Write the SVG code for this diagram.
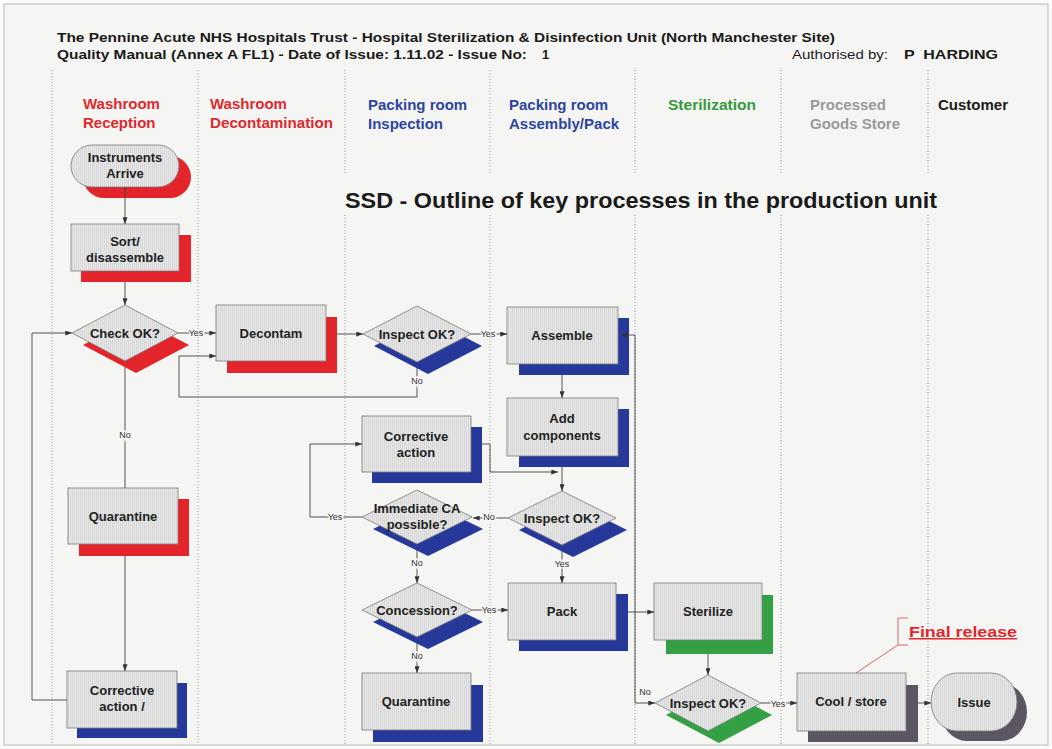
<svg xmlns="http://www.w3.org/2000/svg" width="1052" height="749" viewBox="0 0 1052 749">
<style>
.hd{font-family:"Liberation Sans",Arial,sans-serif;font-weight:bold;font-size:13px;fill:#1a1a1a}
.rg{font-family:"Liberation Sans",Arial,sans-serif;font-size:13px;fill:#1a1a1a}
.ln{font-family:"Liberation Sans",Arial,sans-serif;font-weight:bold;font-size:15px}
.red{fill:#e0282e}.blue{fill:#2c45a0}.green{fill:#35993d}.grey{fill:#9a9a9a}.blk{fill:#1a1a1a}
.lane{stroke:#9a9a9a;stroke-width:1;stroke-dasharray:1 2;fill:none}
.box{fill:url(#tex);stroke:#7a7a7a;stroke-width:0.8}
.t{font-family:"Liberation Sans",Arial,sans-serif;font-weight:bold;font-size:13px;fill:#222;text-anchor:middle}
.sr{fill:#e3242b}.sb{fill:#26399a}.sg{fill:#32a043}.sk{fill:#5b5661}
.c{fill:none;stroke:#444;stroke-width:0.9}
.a{marker-end:url(#arr)}
.lb{font-family:"Liberation Sans",Arial,sans-serif;font-size:9px;fill:#333;text-anchor:middle;paint-order:stroke;stroke:#f5f5f3;stroke-width:3px}
</style>
<defs>
<pattern id="tex" width="2" height="2" patternUnits="userSpaceOnUse">
<rect width="2" height="2" fill="#e6e6e6"/>
<rect width="1" height="2" fill="#d8d8d8"/>
</pattern>
<marker id="arr" viewBox="0 0 8 6" refX="8" refY="3" markerWidth="7" markerHeight="5" markerUnits="userSpaceOnUse" orient="auto">
<path d="M0,0 L8,3 L0,6 z" fill="#333"/>
</marker>
</defs>
<rect x="0" y="0" width="1052" height="749" fill="#fbfbfa"/>
<rect x="4" y="4" width="1044" height="741" fill="#f5f5f3" stroke="#b8b8b8" stroke-width="1"/>

<g id="header">
<text class="hd" x="57" y="42" textLength="778" lengthAdjust="spacingAndGlyphs">The Pennine Acute NHS Hospitals Trust - Hospital Sterilization &amp; Disinfection Unit (North Manchester Site)</text>
<text class="hd" x="57" y="59" textLength="470" lengthAdjust="spacingAndGlyphs">Quality Manual (Annex A FL1) - Date of Issue: 1.11.02 - Issue No:</text>
<text class="hd" x="542" y="59">1</text>
<text class="rg" x="792" y="59" textLength="96" lengthAdjust="spacingAndGlyphs">Authorised by:</text>
<text class="hd" x="904" y="59" xml:space="preserve" textLength="94" lengthAdjust="spacingAndGlyphs">P  HARDING</text>
</g>

<g id="lanes">
<path class="lane" d="M52,70 V745 M198,70 V745 M345,70 V175 M345,215 V745 M490,70 V175 M490,215 V745 M635,70 V175 M635,215 V745 M781,70 V175 M781,215 V745 M928,70 V175 M928,215 V745"/>
<text class="ln red" x="83" y="109">Washroom</text>
<text class="ln red" x="83" y="128">Reception</text>
<text class="ln red" x="210" y="109">Washroom</text>
<text class="ln red" x="210" y="128" textLength="123" lengthAdjust="spacingAndGlyphs">Decontamination</text>
<text class="ln blue" x="368" y="110">Packing room</text>
<text class="ln blue" x="368" y="129">Inspection</text>
<text class="ln blue" x="509" y="110">Packing room</text>
<text class="ln blue" x="509" y="129">Assembly/Pack</text>
<text class="ln green" x="668" y="110" textLength="88" lengthAdjust="spacingAndGlyphs">Sterilization</text>
<text class="ln grey" x="810" y="110">Processed</text>
<text class="ln grey" x="810" y="129">Goods Store</text>
<text class="ln blk" x="938" y="110">Customer</text>
</g>

<g id="title">
<text x="345" y="208" font-family="Liberation Sans, Arial, sans-serif" font-weight="bold" font-size="21.5" fill="#1a1a1a" textLength="592" lengthAdjust="spacingAndGlyphs">SSD - Outline of key processes in the production unit</text>
</g>

<g id="n-arrive">
<rect class="sr" x="83" y="156" width="108" height="42" rx="21"/>
<rect class="box" x="71" y="145" width="108" height="42" rx="21"/>
<text class="t" x="125" y="162">Instruments</text>
<text class="t" x="125" y="178">Arrive</text>
</g>
<g id="n-sort">
<rect class="sr" x="81" y="235" width="110" height="47"/>
<rect class="box" x="71" y="224" width="108" height="47"/>
<text class="t" x="125" y="246">Sort/</text>
<text class="t" x="125" y="262">disassemble</text>
</g>
<g id="n-check">
<polygon class="sr" points="83,345 136,317 189,345 136,373"/>
<polygon class="box" points="72,333 125,305 178,333 125,361"/>
<text class="t" x="125" y="338">Check OK?</text>
</g>
<g id="n-decontam">
<rect class="sr" x="227" y="317" width="110" height="56"/>
<rect class="box" x="216" y="305" width="110" height="56"/>
<text class="t" x="271" y="338">Decontam</text>
</g>
<g id="n-inspect1">
<polygon class="sb" points="374,346 428,318 482,346 428,374"/>
<polygon class="box" points="363,334 417,306 471,334 417,362"/>
<text class="t" x="417" y="339">Inspect OK?</text>
</g>
<g id="n-assemble">
<rect class="sb" x="519" y="318" width="110" height="57"/>
<rect class="box" x="507" y="307" width="111" height="57"/>
<text class="t" x="562" y="340">Assemble</text>
</g>
<g id="n-addcomp">
<rect class="sb" x="519" y="409" width="110" height="58"/>
<rect class="box" x="507" y="398" width="111" height="58"/>
<text class="t" x="562" y="423">Add</text>
<text class="t" x="562" y="440">components</text>
</g>
<g id="n-corrective1">
<rect class="sb" x="372" y="427" width="110" height="56"/>
<rect class="box" x="362" y="416" width="109" height="56"/>
<text class="t" x="416" y="441">Corrective</text>
<text class="t" x="416" y="457">action</text>
</g>
<g id="n-inspect2">
<polygon class="sb" points="519,530 573,503 627,530 573,557"/>
<polygon class="box" points="508,518 562,491 616,518 562,545"/>
<text class="t" x="562" y="523">Inspect OK?</text>
</g>
<g id="n-immediate">
<polygon class="sb" points="373,529 428,502 483,529 428,556"/>
<polygon class="box" points="362,517 417,490 472,517 417,544"/>
<text class="t" x="417" y="513">Immediate CA</text>
<text class="t" x="417" y="529">possible?</text>
</g>
<g id="n-concession">
<polygon class="sb" points="373,622 428,595 483,622 428,649"/>
<polygon class="box" points="362,610 417,583 472,610 417,637"/>
<text class="t" x="417" y="615">Concession?</text>
</g>
<g id="n-pack">
<rect class="sb" x="519" y="594" width="109" height="57"/>
<rect class="box" x="508" y="583" width="108" height="57"/>
<text class="t" x="562" y="616">Pack</text>
</g>
<g id="n-sterilize">
<rect class="sg" x="666" y="595" width="107" height="59"/>
<rect class="box" x="654" y="583" width="108" height="57"/>
<text class="t" x="708" y="616">Sterilize</text>
</g>
<g id="n-quarantine1">
<rect class="sr" x="79" y="499" width="110" height="57"/>
<rect class="box" x="68" y="488" width="110" height="56"/>
<text class="t" x="123" y="521">Quarantine</text>
</g>
<g id="n-corrective2">
<rect class="sb" x="77" y="683" width="110" height="55"/>
<rect class="box" x="67" y="671" width="110" height="57"/>
<text class="t" x="122" y="695">Corrective</text>
<text class="t" x="122" y="711">action /</text>
</g>
<g id="n-quarantine2">
<rect class="sb" x="373" y="685" width="110" height="57"/>
<rect class="box" x="362" y="673" width="109" height="57"/>
<text class="t" x="416" y="706">Quarantine</text>
</g>
<g id="n-inspect3">
<polygon class="sg" points="666,715 719,687 772,715 719,743"/>
<polygon class="box" points="655,703 708,675 761,703 708,731"/>
<text class="t" x="708" y="708">Inspect OK?</text>
</g>
<g id="n-cool">
<rect class="sk" x="808" y="685" width="110" height="57"/>
<rect class="box" x="797" y="673" width="109" height="58"/>
<text class="t" x="851" y="706">Cool / store</text>
</g>
<g id="n-issue">
<rect class="sk" x="941" y="683" width="86" height="58" rx="26" ry="29"/>
<rect class="box" x="931" y="673" width="86" height="58" rx="26" ry="29"/>
<text class="t" x="974" y="707">Issue</text>
</g>
<g id="n-final">
<path d="M856,673 L898,645 M908,618 H898 V645 H908" fill="none" stroke="#e0666a" stroke-width="1"/>
<text x="909" y="637" font-family="Liberation Sans, Arial, sans-serif" font-weight="bold" font-size="15" fill="#e0282e" text-decoration="underline" textLength="108" lengthAdjust="spacingAndGlyphs">Final release</text>
</g>

<g id="connectors">
<path class="c a" d="M125,187 V224"/>
<path class="c a" d="M125,282 V305"/>
<path class="c a" d="M178,333 H216"/>
<path class="c a" d="M337,334 H363"/>
<path class="c a" d="M471,334 H507"/>
<path class="c a" d="M417,368 V397 H179 V356 H216"/>
<path class="c" d="M125,367 V488"/>
<path class="c a" d="M125,556 V671"/>
<path class="c a" d="M67,700 H32 V333 H72"/>
<path class="c a" d="M482,444 H490 V472 H558"/>
<path class="c a" d="M562,375 V398"/>
<path class="c a" d="M562,467 V491"/>
<path class="c a" d="M508,518 H473"/>
<path class="c a" d="M362,517 H310 V444 H362"/>
<path class="c a" d="M417,550 V583"/>
<path class="c a" d="M472,610 H508"/>
<path class="c a" d="M417,643 V673"/>
<path class="c a" d="M562,551 V583"/>
<path class="c a" d="M628,612 H654"/>
<path class="c a" d="M708,654 V675"/>
<path class="c a" d="M635,703 H655"/>
<path class="c a" d="M635,703 V335 H621"/>
<path class="c a" d="M761,703 H797"/>
<path class="c a" d="M918,703 H931"/>
<text class="lb" x="196" y="336">Yes</text>
<text class="lb" x="488" y="337">Yes</text>
<text class="lb" x="417" y="384">No</text>
<text class="lb" x="125" y="438">No</text>
<text class="lb" x="335" y="520">Yes</text>
<text class="lb" x="489" y="520">No</text>
<text class="lb" x="417" y="566">No</text>
<text class="lb" x="562" y="567">Yes</text>
<text class="lb" x="489" y="613">Yes</text>
<text class="lb" x="417" y="659">No</text>
<text class="lb" x="645" y="695">No</text>
<text class="lb" x="778" y="707">Yes</text>
</g>
</svg>
